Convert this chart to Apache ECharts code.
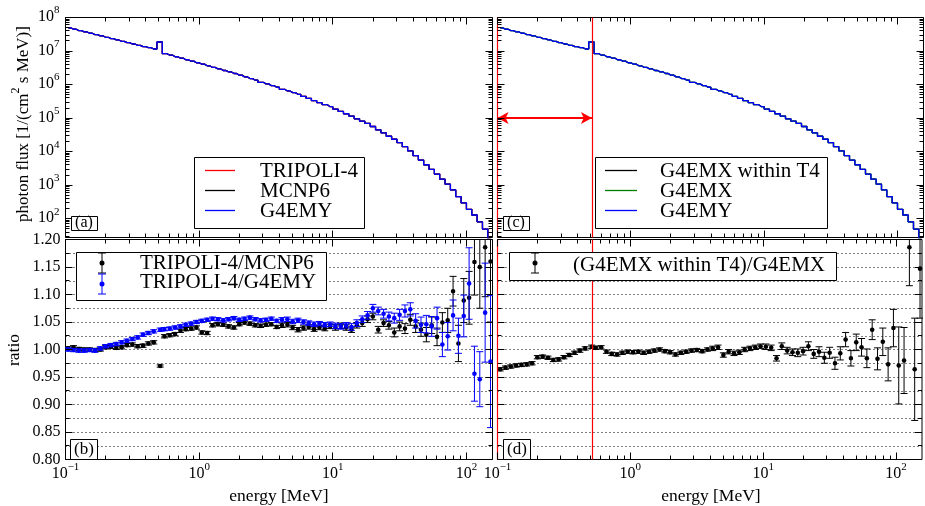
<!DOCTYPE html>
<html><head><meta charset="utf-8">
<script src="https://cdn.jsdelivr.net/npm/echarts@6/dist/echarts.min.js"></script>
<style>html,body{margin:0;padding:0;background:#fff}#c{width:925px;height:506px}</style>
</head><body><div id="c"></div>
<script>
// ---------- data ----------
const energies = [0.1047,0.1148,0.1259,0.1380,0.1514,0.1660,0.1820,0.1995,0.2188,0.2399,
0.2630,0.2884,0.3162,0.3467,0.3802,0.4169,0.4571,0.511,0.5495,0.6026,
0.6607,0.7244,0.7943,0.8710,0.9550,1.047,1.148,1.259,1.380,1.514,
1.660,1.820,1.995,2.188,2.399,2.630,2.884,3.162,3.467,3.802,
4.169,4.571,5.012,5.495,6.026,6.607,7.244,7.943,8.710,9.550,
10.47,11.48,12.59,13.80,15.14,16.60,18.20,19.95,21.88,23.99,
26.30,28.84,31.62,34.67,38.02,41.69,45.71,50.12,54.95,60.26,
66.07,72.44,79.43,87.10,95.50,104.7,114.8,125.9,138.0,151.4];

const flux = [4.90e7,4.47e7,4.07e7,3.72e7,3.39e7,3.09e7,2.82e7,2.57e7,2.34e7,2.14e7,
1.95e7,1.78e7,1.62e7,1.48e7,1.35e7,1.26e7,1.15e7,1.86e7,8.32e6,7.59e6,
6.76e6,6.17e6,5.50e6,5.01e6,4.47e6,4.07e6,3.63e6,3.24e6,2.95e6,2.63e6,
2.40e6,2.14e6,1.91e6,1.70e6,1.51e6,1.35e6,1.17e6,1.05e6,9.33e5,8.32e5,
7.24e5,6.46e5,5.75e5,5.13e5,4.47e5,3.89e5,3.31e5,2.88e5,2.51e5,2.19e5,
1.86e5,1.58e5,1.35e5,1.15e5,9.55e4,8.13e4,6.92e4,5.62e4,4.47e4,3.63e4,
2.88e4,2.34e4,1.86e4,1.41e4,1.05e4,7.59e3,5.62e3,4.07e3,2.95e3,2.14e3,
1.51e3,1.07e3,724,457,295,191,129,81,49,25];

const ratioMCNP6 = [1.002,1.004,1.001,1.000,1.000,0.999,1.000,1.004,1.005,1.003,
1.004,1.008,1.009,1.006,1.007,1.011,1.013,0.970,1.024,1.026,
1.028,1.034,1.037,1.038,1.040,1.031,1.030,1.044,1.046,1.045,
1.042,1.040,1.046,1.049,1.047,1.044,1.043,1.045,1.046,1.041,
1.044,1.045,1.040,1.036,1.039,1.041,1.037,1.040,1.038,1.042,
1.040,1.043,1.040,1.036,1.044,1.048,1.055,1.060,1.036,1.048,
1.044,1.031,1.042,1.038,1.054,1.042,1.036,1.027,1.044,1.023,
1.049,1.053,1.106,1.011,1.089,1.094,1.159,1.150,1.186,1.160];
const errMCNP6 = [0.003,0.003,0.003,0.003,0.003,0.003,0.003,0.003,0.003,0.003,
0.003,0.003,0.003,0.003,0.003,0.003,0.003,0.002,0.003,0.003,
0.003,0.003,0.003,0.003,0.003,0.003,0.003,0.003,0.003,0.003,
0.003,0.003,0.003,0.003,0.003,0.003,0.003,0.003,0.003,0.003,
0.004,0.004,0.004,0.004,0.004,0.004,0.004,0.004,0.004,0.004,
0.005,0.005,0.005,0.005,0.005,0.006,0.006,0.006,0.006,0.006,
0.007,0.008,0.008,0.009,0.010,0.011,0.012,0.013,0.015,0.016,
0.018,0.022,0.027,0.033,0.040,0.048,0.060,0.075,0.090,0.110];

const ratioG4EMY = [1.000,0.999,0.998,0.998,0.999,0.998,1.002,1.006,1.008,1.010,
1.013,1.016,1.019,1.022,1.027,1.030,1.033,1.036,1.037,1.038,
1.040,1.042,1.045,1.047,1.050,1.052,1.054,1.056,1.055,1.053,
1.055,1.057,1.054,1.056,1.058,1.055,1.053,1.054,1.056,1.052,
1.054,1.055,1.051,1.053,1.050,1.048,1.046,1.047,1.045,1.046,
1.043,1.042,1.044,1.041,1.048,1.055,1.062,1.075,1.070,1.065,
1.060,1.057,1.063,1.070,1.073,1.052,1.045,1.046,1.042,1.057,
1.009,1.024,1.062,1.025,1.061,1.120,0.956,0.946,1.067,0.978];
const errG4EMY = [0.003,0.003,0.003,0.003,0.003,0.003,0.003,0.003,0.003,0.003,
0.003,0.003,0.003,0.003,0.003,0.003,0.003,0.003,0.003,0.003,
0.003,0.003,0.003,0.003,0.003,0.003,0.003,0.003,0.003,0.003,
0.003,0.003,0.003,0.003,0.003,0.003,0.003,0.003,0.003,0.003,
0.004,0.004,0.004,0.004,0.004,0.004,0.004,0.004,0.004,0.004,
0.005,0.005,0.005,0.006,0.006,0.006,0.007,0.007,0.007,0.008,
0.008,0.009,0.010,0.011,0.012,0.013,0.014,0.016,0.018,0.020,
0.022,0.025,0.028,0.032,0.038,0.065,0.050,0.050,0.090,0.120];

const ratioT4 = [0.964,0.967,0.969,0.971,0.972,0.973,0.975,0.986,0.987,0.985,
0.981,0.982,0.986,0.990,0.994,0.998,1.002,1.005,1.003,1.004,
0.996,0.992,0.991,0.994,0.996,0.995,0.996,0.994,0.996,0.998,
1.000,0.997,0.995,0.991,0.994,0.996,0.998,0.999,0.997,1.000,
1.002,1.004,0.990,0.996,0.993,0.995,1.000,1.002,1.004,1.006,
1.005,1.003,0.984,1.006,0.998,0.995,0.994,0.997,1.006,0.992,
0.996,0.985,0.994,0.975,0.993,1.018,0.984,1.013,1.004,0.984,
1.036,0.983,1.014,0.973,1.039,0.971,0.980,1.186,0.964,1.147];
const errT4 = [0.003,0.003,0.003,0.003,0.003,0.003,0.003,0.003,0.003,0.003,
0.003,0.003,0.003,0.003,0.003,0.003,0.003,0.003,0.003,0.003,
0.003,0.003,0.003,0.003,0.003,0.003,0.003,0.003,0.003,0.003,
0.003,0.003,0.003,0.003,0.003,0.003,0.003,0.003,0.003,0.003,
0.004,0.004,0.004,0.004,0.004,0.004,0.004,0.004,0.004,0.004,
0.005,0.005,0.005,0.006,0.006,0.006,0.007,0.007,0.008,0.008,
0.009,0.010,0.010,0.011,0.012,0.013,0.014,0.015,0.016,0.017,
0.018,0.020,0.025,0.030,0.034,0.070,0.060,0.070,0.093,0.090];

const xMajorTicks = [0.1, 1, 10, 100];
const xMinorTicks = [0.2,0.3,0.4,0.5,0.6,0.7,0.8,0.9,2,3,4,5,6,7,8,9,20,30,40,50,60,70,80,90];
const fluxMajorTicks = [1e2,1e3,1e4,1e5,1e6,1e7,1e8];
const fluxMinorTicks = [30,40,50,60,70,80,90,
  200,300,400,500,600,700,800,900, 2e3,3e3,4e3,5e3,6e3,7e3,8e3,9e3,
  2e4,3e4,4e4,5e4,6e4,7e4,8e4,9e4, 2e5,3e5,4e5,5e5,6e5,7e5,8e5,9e5,
  2e6,3e6,4e6,5e6,6e6,7e6,8e6,9e6, 2e7,3e7,4e7,5e7,6e7,7e7,8e7,9e7];
const ratioMajorTicks = [0.80,0.85,0.90,0.95,1.00,1.05,1.10,1.15,1.20];
const ratioMinorTicks = [0.825,0.875,0.925,0.975,1.025,1.075,1.125,1.175];
const annihilationEnergy = 0.511;
const rangeStart = 0.1;
const arrowFlux = 1e5;

// ---------- helpers ----------
const L = v => Math.log10(v);
const X_MIN = L(0.1), X_MAX = 2.195, F_MIN = 1.44, F_MAX = 8, R_MIN = 0.8, R_MAX = 1.2;
const serif = '"Liberation Serif","Times New Roman","DejaVu Serif",serif';
const RED = '#ff0000';

function powLabel(v){
  const r = Math.round(v);
  if (Math.abs(v - r) > 1e-6) return '';
  return '{b|10}{s|' + (r < 0 ? '\u2212' + (-r) : r) + '}';
}
const powRich = {
  b: {fontFamily: serif, fontSize: 16, color: '#000', lineHeight: 20, verticalAlign: 'bottom'},
  s: {fontFamily: serif, fontSize: 11, color: '#000', lineHeight: 11, verticalAlign: 'top'}
};

function tickData(xMaj, xMin, yMaj, yMin, yLog, yLow){
  const d = [];
  const fy = yLog ? L : (v => v);
  xMaj.forEach(v => d.push([L(v), yLow, 0, 7]));
  xMin.forEach(v => d.push([L(v), yLow, 0, 4]));
  yMaj.forEach(v => d.push([X_MIN, fy(v), 1, 7]));
  yMin.forEach(v => d.push([X_MIN, fy(v), 1, 4]));
  return d;
}
function tickRender(params, api){
  const cs = params.coordSys;
  const o = api.value(2), len = api.value(3);
  const p = api.coord([api.value(0), api.value(1)]);
  const st = {stroke: '#000', lineWidth: 1};
  if (o === 0){
    const x = Math.floor(p[0]) + 0.5;
    if (x < cs.x - 1 || x > cs.x + cs.width + 1) return null;
    return {type: 'group', children: [
      {type: 'line', shape: {x1: x, y1: cs.y + cs.height, x2: x, y2: cs.y + cs.height - len}, style: st},
      {type: 'line', shape: {x1: x, y1: cs.y, x2: x, y2: cs.y + len}, style: st}
    ]};
  }
  const y = Math.floor(p[1]) + 0.5;
  if (y < cs.y - 1 || y > cs.y + cs.height + 1) return null;
  return {type: 'group', children: [
    {type: 'line', shape: {x1: cs.x, y1: y, x2: cs.x + len, y2: y}, style: st},
    {type: 'line', shape: {x1: cs.x + cs.width, y1: y, x2: cs.x + cs.width - len, y2: y}, style: st}
  ]};
}
function errRender(color){
  return function(params, api){
    const x = api.value(0), y = api.value(1), e = api.value(2);
    const p = api.coord([x, y]), lo = api.coord([x, y - e]), hi = api.coord([x, y + e]);
    const c = 3.5, st = {stroke: color, lineWidth: 1};
    return {type: 'group', children: [
      {type: 'line', shape: {x1: p[0], y1: lo[1], x2: p[0], y2: hi[1]}, style: st},
      {type: 'line', shape: {x1: p[0] - c, y1: lo[1], x2: p[0] + c, y2: lo[1]}, style: st},
      {type: 'line', shape: {x1: p[0] - c, y1: hi[1], x2: p[0] + c, y2: hi[1]}, style: st},
      {type: 'circle', shape: {cx: p[0], cy: p[1], r: 2.3}, style: {fill: color}}
    ]};
  };
}

const fluxPts = energies.map((e, i) => [L(e), L(flux[i])]);
function ratioPts(r, err){ return energies.map((e, i) => [L(e), r[i], err[i]]); }

function fluxLine(gi, color, name){
  return {type: 'line', name, xAxisIndex: gi, yAxisIndex: gi, data: fluxPts, step: 'middle',
    symbol: 'none', showSymbol: false, clip: true, animation: false,
    lineStyle: {color, width: 1.3}, z: 2};
}
function errSeries(gi, r, err, color){
  return {type: 'custom', xAxisIndex: gi, yAxisIndex: gi, data: ratioPts(r, err),
    renderItem: errRender(color), clip: true, animation: false, silent: true, z: 3};
}
function tickSeries(gi, yMaj, yMin, yLog, yLow){
  return {type: 'custom', xAxisIndex: gi, yAxisIndex: gi, silent: true, animation: false, z: 6,
    data: tickData(xMajorTicks, xMinorTicks, yMaj, yMin, yLog, yLow), renderItem: tickRender};
}
const xa = L(annihilationEnergy), x0 = L(rangeStart);
// invisible carrier series holding the red range markers
function markerCarrier(gi, yv, withArrow){
  const s = {type: 'line', xAxisIndex: gi, yAxisIndex: gi, data: [[x0, yv], [xa, yv]],
    symbol: 'none', showSymbol: false, lineStyle: {opacity: 0, width: 0}, itemStyle: {color: RED},
    animation: false, silent: true, z: 7,
    markLine: {
      silent: true, animation: false, symbol: ['none', 'none'],
      label: {show: false}, lineStyle: {color: RED, width: 1.2, type: 'solid', opacity: 1},
      data: [{xAxis: xa}, {xAxis: x0}]
    }};
  return s;
}
const arrowCarrier = {type: 'line', xAxisIndex: 1, yAxisIndex: 1, data: [[x0, L(arrowFlux)], [xa, L(arrowFlux)]],
  symbol: 'none', showSymbol: false, lineStyle: {opacity: 0, width: 0}, itemStyle: {color: RED}, animation: false, silent: true, z: 7,
  markLine: {
    silent: true, animation: false, symbol: ['arrow', 'arrow'], symbolSize: [9, 11],
    label: {show: false}, lineStyle: {color: RED, width: 1.8, type: 'solid', opacity: 1},
    data: [[{coord: [x0, L(arrowFlux)]}, {coord: [xa, L(arrowFlux)]}]]
  }};

const grids = [
  {left: 65.5, top: 17.5, width: 427, height: 220},
  {left: 497.5, top: 17.5, width: 426, height: 220},
  {left: 65.5, top: 239.5, width: 427, height: 220},
  {left: 497.5, top: 239.5, width: 426, height: 220}
].map(g => Object.assign(g, {show: true, borderColor: '#000', borderWidth: 1, containLabel: false}));

const xAxes = [0, 1, 2, 3].map(i => ({
  type: 'value', gridIndex: i, min: X_MIN, max: X_MAX, interval: 1,
  axisLine: {show: false}, axisTick: {show: false}, splitLine: {show: false},
  axisLabel: i >= 2 ? {show: true, formatter: powLabel, rich: powRich, margin: 2, showMinLabel: true, showMaxLabel: true} : {show: false}
}));
const dotted = {color: '#000', width: 1, type: [1, 3]};
const yAxes = [0, 1, 2, 3].map(i => {
  if (i < 2) return {
    type: 'value', gridIndex: i, min: F_MIN, max: F_MAX, splitNumber: 6,
    axisLine: {show: false}, axisTick: {show: false}, splitLine: {show: false},
    axisLabel: i === 0 ? {show: true, formatter: powLabel, rich: powRich, margin: 6, padding: [0, 0, 5, 0], showMinLabel: true, showMaxLabel: true} : {show: false}
  };
  return {
    type: 'value', gridIndex: i, min: R_MIN, max: R_MAX, interval: 0.05,
    axisLine: {show: false}, axisTick: {show: false},
    splitLine: {show: true, lineStyle: dotted},
    minorTick: {show: false, splitNumber: 2},
    minorSplitLine: {show: true, lineStyle: dotted},
    axisLabel: i === 2 ? {show: true, formatter: v => v.toFixed(2), fontFamily: serif, fontSize: 16, color: '#000', margin: 5, showMinLabel: true, showMaxLabel: true} : {show: false}
  };
});

const series = [
  fluxLine(0, '#ff0000', 'TRIPOLI-4'), fluxLine(0, '#000000', 'MCNP6'), fluxLine(0, '#0000ff', 'G4EMY'),
  fluxLine(1, '#000000', 'G4EMX within T4'), fluxLine(1, '#008000', 'G4EMX'), fluxLine(1, '#0000ff', 'G4EMY'),
  errSeries(2, ratioMCNP6, errMCNP6, '#000000'),
  errSeries(2, ratioG4EMY, errG4EMY, '#0000ff'),
  errSeries(3, ratioT4, errT4, '#000000'),
  markerCarrier(1, L(arrowFlux)), markerCarrier(3, 1.0), arrowCarrier,
  tickSeries(0, fluxMajorTicks, fluxMinorTicks, true, F_MIN),
  tickSeries(1, fluxMajorTicks, fluxMinorTicks, true, F_MIN),
  tickSeries(2, ratioMajorTicks, ratioMinorTicks, false, R_MIN),
  tickSeries(3, ratioMajorTicks, ratioMinorTicks, false, R_MIN)
];

// ---------- legends / annotations ----------
function T(x, y, text, size, opt){
  return {type: 'text', x, y, z: 101, silent: true,
    style: Object.assign({text, fontFamily: serif, fontSize: size, fill: '#000',
      align: 'left', verticalAlign: 'middle', textAlign: 'left', textVerticalAlign: 'middle'}, opt || {})};
}
function R(x, y, w, h){ return {type: 'rect', z: 100, silent: true, shape: {x, y, width: w, height: h}, style: {fill: '#fff', stroke: '#000', lineWidth: 1}}; }
function Ln(x1, y1, x2, y2, color, w){ return {type: 'line', z: 101, silent: true, shape: {x1, y1, x2, y2}, style: {stroke: color, lineWidth: w || 1.3}}; }
function ErrMark(x, y, color){
  return [Ln(x, y - 10, x, y + 10, color, 1), Ln(x - 4, y - 10, x + 4, y - 10, color, 1), Ln(x - 4, y + 10, x + 4, y + 10, color, 1),
    {type: 'circle', z: 102, silent: true, shape: {cx: x, cy: y, r: 2.5}, style: {fill: color}}];
}
const supRich = {s: {fontFamily: serif, fontSize: 12, verticalAlign: 'top', lineHeight: 12, fill: '#000'},
                 n: {fontFamily: serif, fontSize: 17, lineHeight: 22, verticalAlign: 'bottom', fill: '#000'}};
const graphics = [
  // (a) legend
  R(194.5, 157.5, 170, 71),
  Ln(205, 170.5, 235, 170.5, '#ff0000'), Ln(205, 190.5, 235, 190.5, '#000000'), Ln(205, 210.5, 235, 210.5, '#0000ff'),
  T(260, 171, 'TRIPOLI-4', 21), T(260, 191, 'MCNP6', 21), T(260, 211, 'G4EMY', 21),
  // (c) legend
  R(595.5, 157.5, 232, 71),
  Ln(605, 170.5, 637, 170.5, '#000000'), Ln(605, 190.5, 637, 190.5, '#008000'), Ln(605, 210.5, 637, 210.5, '#0000ff'),
  T(660, 171, 'G4EMX within T4', 21), T(660, 191, 'G4EMX', 21), T(660, 211, 'G4EMY', 21),
  // (b) legend
  R(76.5, 252.5, 250, 48),
  ...ErrMark(102, 263, '#000000'), ...ErrMark(102, 284, '#0000ff'),
  T(140, 263, 'TRIPOLI-4/MCNP6', 21), T(140, 282, 'TRIPOLI-4/G4EMY', 21),
  // (d) legend
  R(509.5, 252.5, 327, 28),
  ...ErrMark(535, 263, '#000000'),
  T(573, 265, '(G4EMX within T4)/G4EMX', 21),
  // panel labels
  R(71.5, 216.5, 26, 14), T(84, 223, '(a)', 16, {align: 'center', textAlign: 'center'}),
  R(503.5, 216.5, 26, 14), T(516, 223, '(c)', 16, {align: 'center', textAlign: 'center'}),
  R(70.5, 439.5, 27, 20), T(84, 450, '(b)', 17, {align: 'center', textAlign: 'center'}),
  R(503.5, 439.5, 27, 20), T(517, 450, '(d)', 17, {align: 'center', textAlign: 'center'}),
  // axis titles
  T(279, 496, 'energy [MeV]', 17.5, {align: 'center', textAlign: 'center'}),
  T(711, 496, 'energy [MeV]', 17.5, {align: 'center', textAlign: 'center'}),
  Object.assign(T(21, 124, '{n|photon flux [1/(cm}{s|2}{n| s MeV)]}', 17, {align: 'center', textAlign: 'center', rich: supRich}), {rotation: Math.PI / 2}),
  Object.assign(T(14, 350, 'ratio', 17.5, {align: 'center', textAlign: 'center'}), {rotation: Math.PI / 2})
];

const chart = echarts.init(document.getElementById('c'), null, {renderer: 'canvas'});
chart.setOption({
  animation: false,
  backgroundColor: '#fff',
  grid: grids,
  xAxis: xAxes,
  yAxis: yAxes,
  series,
  graphic: {elements: graphics}
});
</script>
</body></html>
